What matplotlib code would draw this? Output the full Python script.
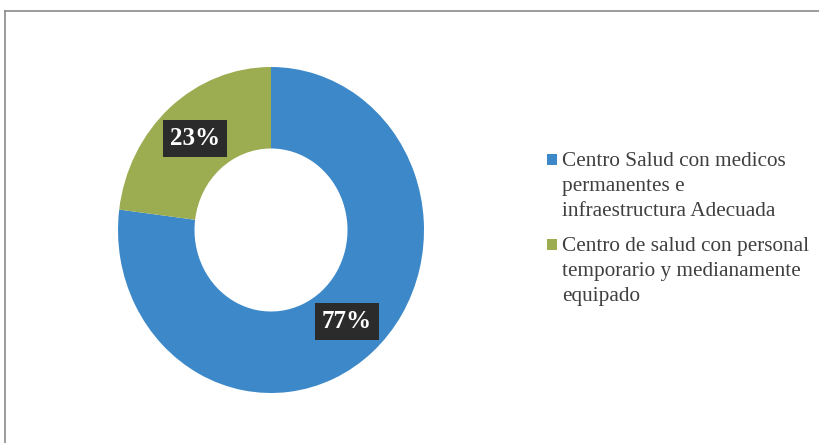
import matplotlib
matplotlib.use("Agg")
import matplotlib.pyplot as plt
from matplotlib.lines import Line2D
from matplotlib.patches import Rectangle

# data ---------------------------------------------------------------------
categories = [
    "Centro Salud con medicos\npermanentes e\ninfraestructura Adecuada",
    "Centro de salud con personal\ntemporario y medianamente\nequipado",
]
shares = [77, 23]
colors = ["#3C88C9", "#9CAC50"]

W, H = 820, 443
fig = plt.figure(figsize=(W / 100, H / 100), dpi=100)
fig.patch.set_facecolor("white")

SERIF = ["Liberation Serif", "DejaVu Serif"]

# donut --------------------------------------------------------------------
ax = fig.add_axes([118 / W, 1 - 393 / H, 306 / W, 326 / H])
wedges, _, autotexts = ax.pie(
    shares,
    colors=colors,
    startangle=90,
    counterclock=False,
    radius=1.0,
    pctdistance=0.75,
    autopct=lambda p: f"{p:.0f}%",
    wedgeprops=dict(width=0.5, edgecolor="none"),
)
ax.set_aspect("auto")
ax.set_xlim(-1, 1)
ax.set_ylim(-1, 1)
ax.axis("off")

for t in autotexts:
    t.set_color("white")
    t.set_fontfamily(SERIF)
    t.set_fontweight("bold")
    t.set_fontsize(18)
    t.set_bbox(dict(boxstyle="square,pad=0.28", facecolor="#2B2B2B",
                    edgecolor="none"))

# legend (drawn by hand so the marker sits on the first line) -------------
entry_baselines = [168, 253]
for label, col, yb in zip(categories, colors, entry_baselines):
    fig.patches.append(Rectangle((547 / W, 1 - 165 / H + (168 - yb) / H),
                                 10 / W, 11 / H, transform=fig.transFigure,
                                 facecolor=col, edgecolor="none"))
    fig.text(562 / W, 1 - (yb - 16) / H, label, ha="left", va="top",
             fontsize=15.3, family=SERIF, color="#3F3F3F", linespacing=1.42)

# outer frame
frame_kw = dict(color="#8A8A8A", linewidth=1.2, transform=fig.transFigure)
fig.lines.append(Line2D([5 / W, 1], [1 - 11 / H, 1 - 11 / H], **frame_kw))
fig.lines.append(Line2D([5 / W, 5 / W], [0, 1 - 11 / H], **frame_kw))

fig.savefig("out.png", dpi=100)
